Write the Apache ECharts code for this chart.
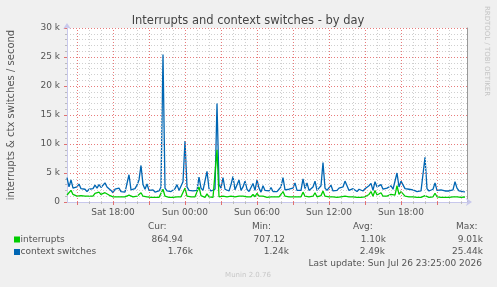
<!DOCTYPE html>
<html><head><meta charset="utf-8">
<script src="https://cdn.jsdelivr.net/npm/echarts@6/dist/echarts.min.js"></script>
<style>html,body{margin:0;padding:0;background:#F0F0F0;}#c{width:497px;height:287px;}</style>
</head><body><div id="c"></div>
<script>
// time: hours since Sat 00:00, one sample every 10 minutes starting Sat 14:10
var startHour = 14 + 10/60;
var stepHour = 1/6;
var endHour = 47.5;
var xTickHours = [18, 24, 30, 36, 42];
var xTickLabels = ['Sat 18:00', 'Sun 00:00', 'Sun 06:00', 'Sun 12:00', 'Sun 18:00'];
var yTickLabels = ['0', '5 k', '10 k', '15 k', '20 k', '25 k', '30 k'];

// values in thousands per second
var interrupts = [
 1.2,1.1,2.0,1.3,1.1,1.0,1.2,1.1,1.0,1.0,
 0.9,1.0,1.0,1.0,1.5,1.4,1.7,1.3,1.2,1.6,
 1.3,1.2,1.0,0.9,1.0,0.9,0.9,0.9,1.0,0.9,
 0.9,1.2,0.9,0.9,0.9,1.0,1.3,1.6,1.0,0.9,
 0.9,0.8,0.8,0.8,0.8,0.8,0.8,0.9,2.2,1.0,
 0.8,0.8,0.8,0.8,0.8,0.9,0.8,0.9,1.2,2.4,
 1.0,0.9,0.9,0.8,0.9,0.9,2.6,1.1,0.9,0.8,
 1.4,0.9,0.8,0.8,0.8,9.01,0.9,0.8,1.0,0.9,
 0.9,0.8,1.0,1.1,0.9,0.9,1.0,0.9,1.0,1.1,
 0.9,0.8,0.9,1.3,0.9,1.5,1.0,0.8,1.0,0.9,
 0.8,0.9,0.9,0.8,0.9,0.8,0.9,1.0,1.8,1.0,
 0.9,0.9,0.8,0.9,1.1,0.9,0.9,0.9,1.7,1.0,
 1.2,0.9,0.8,1.0,1.6,0.9,0.9,1.1,1.9,1.0,
 0.9,0.9,1.0,0.9,0.9,0.8,0.9,0.9,0.9,1.0,
 0.9,0.9,0.8,0.9,0.8,0.8,0.9,0.8,0.8,0.9,
 0.9,1.3,1.8,1.0,2.0,1.2,1.1,1.6,1.0,0.9,
 1.0,0.9,1.3,1.0,1.2,2.8,1.3,1.8,1.5,1.0,
 0.9,0.9,0.8,0.9,0.9,0.8,0.8,0.8,0.9,1.1,
 0.9,0.8,0.8,0.9,1.5,0.9,0.8,0.8,0.8,0.8,
 0.8,0.8,0.8,0.9,1.1,0.9,0.8,0.8,0.8,0.865
];
var contextSwitches = [
 4.2,2.6,3.8,2.4,2.1,2.6,3.1,2.3,2.0,2.2,
 1.8,2.2,2.0,2.3,2.9,2.4,3.0,2.5,2.2,3.3,
 2.6,2.9,2.0,1.6,2.2,1.9,2.4,1.8,2.1,1.7,
 2.0,4.7,2.1,1.8,2.3,2.9,3.8,6.3,3.0,2.2,
 3.1,2.0,1.8,2.1,1.7,2.0,1.9,2.6,25.44,2.4,
 1.9,2.2,1.8,2.0,2.3,3.0,2.0,1.9,3.5,10.5,
 2.6,2.0,2.3,1.9,2.2,2.0,4.3,2.4,2.0,2.2,
 5.3,2.3,1.9,2.0,2.2,17.0,3.0,2.4,4.2,2.2,
 2.4,1.9,3.0,4.4,2.1,2.4,3.8,2.0,2.6,3.6,
 2.2,1.8,2.5,3.2,2.0,3.8,2.4,1.7,2.8,2.0,
 2.2,1.9,2.5,1.8,2.0,1.8,2.2,2.6,4.2,2.1,
 2.0,2.2,1.9,2.4,3.3,2.0,2.2,2.0,4.0,2.3,
 3.3,2.0,1.9,2.6,3.6,2.0,2.3,2.8,6.8,2.4,
 2.0,2.2,2.9,1.9,2.1,2.0,2.4,2.2,2.6,3.6,
 2.8,2.0,1.9,2.3,2.0,1.8,2.2,2.0,1.9,2.3,
 2.1,2.8,3.2,2.0,3.5,2.6,2.4,3.0,2.2,2.0,
 2.4,2.1,2.8,2.2,2.5,5.0,2.6,3.6,3.8,2.3,
 2.0,2.2,1.9,2.1,2.0,1.8,2.0,1.9,2.1,7.7,
 2.3,1.9,2.0,2.2,3.3,2.0,1.8,2.1,2.0,1.9,
 2.2,1.9,2.0,2.1,3.5,2.4,1.9,2.0,1.8,1.76
];
var seriesNames = ['interrupts', 'context switches'];
var seriesColors = ['#00CC00', '#0066B3'];
var statHeaders = ['Cur:', 'Min:', 'Avg:', 'Max:'];
var statCur = ['864.94', '1.76k'];
var statMin = ['707.12', '1.24k'];
var statAvg = ['1.10k', '2.49k'];
var statMax = ['9.01k', '25.44k'];

function toPairs(arr){ return arr.map(function(v,i){ return [startHour + i*stepHour, v*1000]; }); }
var hourly = []; for (var h = 15; h <= 47; h++) hourly.push(h);
var threeHourly = []; for (var h2 = 15; h2 <= 47; h2 += 3) threeHourly.push(h2);

var FONT = '"DejaVu Sans", sans-serif';
var RED = 'rgba(228,100,100,0.85)';
var GRAY = '#cfcfcf';
var TXT = '#555';

var vGrid = hourly.map(function(hh){
  return {xAxis:hh, lineStyle:{color:(hh % 3 === 0) ? RED : GRAY, type:[1,2], width:1}};
});

var chart = echarts.init(document.getElementById('c'), null, {renderer:'canvas'});
var g = [];
g.push({type:'text', x:248, y:21, style:{text:'Interrupts and context switches - by day', font:'11.5px '+FONT, fill:'#444', align:'center', verticalAlign:'middle'}});
g.push({type:'text', x:11, y:115, rotation:Math.PI/2, style:{text:'interrupts & ctx switches / second', font:'10px '+FONT, fill:TXT, align:'center', verticalAlign:'middle'}});
g.push({type:'text', x:487, y:51, rotation:-Math.PI/2, style:{text:'RRDTOOL / TOBI OETIKER', font:'7px '+FONT, fill:'#c4c4c4', align:'center', verticalAlign:'middle'}});
var rowY = [239.5, 252];
var hdrLeft = [148, 252, 353, 456];
var colRight = [[183,193],[285,289],[386,385],[483,483]];
var cols = [statCur, statMin, statAvg, statMax];
statHeaders.forEach(function(t,i){
  g.push({type:'text', x:hdrLeft[i], y:227, style:{text:t, font:'9px '+FONT, fill:TXT, align:'left', verticalAlign:'middle'}});
});
seriesNames.forEach(function(n,r){
  g.push({type:'rect', shape:{x:14, y:rowY[r]-3, width:6, height:6}, style:{fill:seriesColors[r]}});
  g.push({type:'text', x:20.5, y:rowY[r], style:{text:n, font:'9px '+FONT, fill:TXT, align:'left', verticalAlign:'middle'}});
  cols.forEach(function(c,ci){
    g.push({type:'text', x:colRight[ci][r], y:rowY[r], style:{text:c[r], font:'9px '+FONT, fill:TXT, align:'right', verticalAlign:'middle'}});
  });
});
g.push({type:'text', x:482, y:263.5, style:{text:'Last update: Sun Jul 26 23:25:00 2026', font:'9px '+FONT, fill:TXT, align:'right', verticalAlign:'middle'}});
g.push({type:'text', x:248, y:275, style:{text:'Munin 2.0.76', font:'7px '+FONT, fill:'#c8c8c8', align:'center', verticalAlign:'middle'}});

chart.setOption({
  animation:false,
  backgroundColor:'#F0F0F0',
  grid:{left:67, right:30, top:28, bottom:85, show:true, backgroundColor:'#ffffff', borderWidth:0},
  xAxis:[{
    type:'value', min:startHour, max:endHour, position:'bottom',
    axisLine:{show:true, lineStyle:{color:'#c8c8ec', width:1}, symbol:['none','arrow'], symbolSize:[6,6], symbolOffset:[0,5]},
    axisTick:{show:true, customValues:hourly, length:2, lineStyle:{color:'#bbb'}},
    axisLabel:{customValues:xTickHours, margin:6, color:TXT, fontFamily:'DejaVu Sans', fontSize:9,
      formatter:function(v){ var k = xTickHours.indexOf(Math.round(v)); return k>=0 ? xTickLabels[k] : ''; }},
    splitLine:{show:false}
  },{
    type:'value', min:startHour, max:endHour, position:'bottom',
    axisLine:{show:false},
    axisTick:{show:true, customValues:threeHourly, length:3, lineStyle:{color:'#e07070'}},
    axisLabel:{show:false}, splitLine:{show:false}
  }],
  yAxis:[{
    type:'value', min:0, max:30000, interval:5000,
    axisLine:{show:true, lineStyle:{color:'#c8c8ec', width:1}, symbol:['none','arrow'], symbolSize:[6,6], symbolOffset:[0,5]},
    axisTick:{show:true, length:3, lineStyle:{color:'#e07070'}},
    minorTick:{show:true, splitNumber:5, length:2, lineStyle:{color:'#bbb'}},
    axisLabel:{margin:7, color:TXT, fontFamily:'DejaVu Sans', fontSize:9,
      formatter:function(v){ return yTickLabels[Math.round(v/5000)]; }},
    splitLine:{show:true, lineStyle:{color:RED, type:[1,2], width:1}},
    minorSplitLine:{show:true, lineStyle:{color:GRAY, type:[1,2], width:1}}
  },{
    type:'value', min:0, max:30000, position:'right',
    axisLine:{show:true, lineStyle:{color:'#999', width:1}},
    axisTick:{show:false}, axisLabel:{show:false}, splitLine:{show:false}
  }],
  series:[{
    name:'grid', type:'line', xAxisIndex:0, yAxisIndex:0, data:toPairs(interrupts), z:1,
    showSymbol:false, symbol:'none', lineStyle:{opacity:0}, silent:true,
    markLine:{silent:true, symbol:'none', label:{show:false}, animation:false, data:vGrid}
  },{
    name:seriesNames[0], type:'line', xAxisIndex:0, yAxisIndex:0, data:toPairs(interrupts),
    showSymbol:false, symbol:'none', lineStyle:{color:seriesColors[0], width:1.3}, itemStyle:{color:seriesColors[0]}, z:3
  },{
    name:seriesNames[1], type:'line', xAxisIndex:0, yAxisIndex:0, data:toPairs(contextSwitches),
    showSymbol:false, symbol:'none', lineStyle:{color:seriesColors[1], width:1.3}, itemStyle:{color:seriesColors[1]}, z:2
  }],
  graphic:g
});
</script></body></html>
